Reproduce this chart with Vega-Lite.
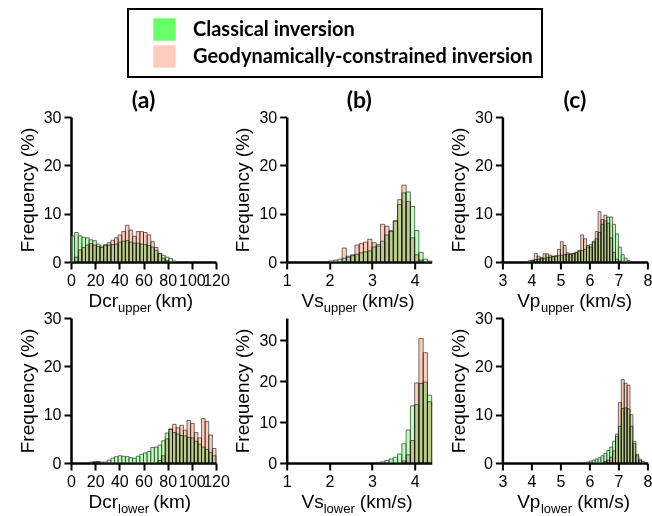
{
"$schema":"https://vega.github.io/schema/vega-lite/v6.json",
"background":"white",
"padding":{"left":18,"top":8,"right":0,"bottom":0},
"datasets":{
"a_up":[
{"s":"C","lo":0,"hi":3,"f":5.4},{"s":"C","lo":3,"hi":6,"f":6.1},{"s":"C","lo":6,"hi":9,"f":5.4},{"s":"C","lo":9,"hi":12,"f":5.1},{"s":"C","lo":12,"hi":15,"f":5.0},{"s":"C","lo":15,"hi":18,"f":4.6},{"s":"C","lo":18,"hi":21,"f":4.4},{"s":"C","lo":21,"hi":24,"f":3.7},{"s":"C","lo":24,"hi":27,"f":3.3},{"s":"C","lo":27,"hi":30,"f":3.4},{"s":"C","lo":30,"hi":33,"f":3.5},{"s":"C","lo":33,"hi":36,"f":3.6},{"s":"C","lo":36,"hi":39,"f":3.7},{"s":"C","lo":39,"hi":42,"f":4.1},{"s":"C","lo":42,"hi":45,"f":4.3},{"s":"C","lo":45,"hi":48,"f":4.4},{"s":"C","lo":48,"hi":51,"f":4.1},{"s":"C","lo":51,"hi":54,"f":3.9},{"s":"C","lo":54,"hi":57,"f":3.9},{"s":"C","lo":57,"hi":60,"f":3.7},{"s":"C","lo":60,"hi":63,"f":3.6},{"s":"C","lo":63,"hi":66,"f":3.4},{"s":"C","lo":66,"hi":69,"f":3.1},{"s":"C","lo":69,"hi":72,"f":2.4},{"s":"C","lo":72,"hi":75,"f":1.7},{"s":"C","lo":75,"hi":78,"f":1.4},{"s":"C","lo":78,"hi":81,"f":1.0},{"s":"C","lo":81,"hi":84,"f":0.7},{"s":"C","lo":84,"hi":87,"f":0.2},
{"s":"G","lo":3,"hi":6,"f":1.0},{"s":"G","lo":6,"hi":9,"f":2.5},{"s":"G","lo":9,"hi":12,"f":3.0},{"s":"G","lo":12,"hi":15,"f":3.5},{"s":"G","lo":15,"hi":18,"f":3.8},{"s":"G","lo":18,"hi":21,"f":3.5},{"s":"G","lo":21,"hi":24,"f":3.2},{"s":"G","lo":24,"hi":27,"f":3.0},{"s":"G","lo":27,"hi":30,"f":3.6},{"s":"G","lo":30,"hi":33,"f":4.0},{"s":"G","lo":33,"hi":36,"f":4.5},{"s":"G","lo":36,"hi":39,"f":5.0},{"s":"G","lo":39,"hi":42,"f":5.6},{"s":"G","lo":42,"hi":45,"f":6.3},{"s":"G","lo":45,"hi":48,"f":7.6},{"s":"G","lo":48,"hi":51,"f":6.6},{"s":"G","lo":51,"hi":54,"f":5.3},{"s":"G","lo":54,"hi":57,"f":6.3},{"s":"G","lo":57,"hi":60,"f":6.3},{"s":"G","lo":60,"hi":63,"f":6.1},{"s":"G","lo":63,"hi":66,"f":5.6},{"s":"G","lo":66,"hi":69,"f":4.2},{"s":"G","lo":69,"hi":72,"f":3.0},{"s":"G","lo":72,"hi":75,"f":1.8},{"s":"G","lo":75,"hi":78,"f":0.8},{"s":"G","lo":78,"hi":81,"f":0.3}
],
"b_up":[
{"s":"C","lo":2.0,"hi":2.1,"f":0.2},{"s":"C","lo":2.1,"hi":2.2,"f":0.4},{"s":"C","lo":2.2,"hi":2.3,"f":0.6},{"s":"C","lo":2.3,"hi":2.4,"f":0.8},{"s":"C","lo":2.4,"hi":2.5,"f":1.0},{"s":"C","lo":2.5,"hi":2.6,"f":1.3},{"s":"C","lo":2.6,"hi":2.7,"f":1.6},{"s":"C","lo":2.7,"hi":2.8,"f":1.9},{"s":"C","lo":2.8,"hi":2.9,"f":2.1},{"s":"C","lo":2.9,"hi":3.0,"f":2.3},{"s":"C","lo":3.0,"hi":3.1,"f":3.1},{"s":"C","lo":3.1,"hi":3.2,"f":3.6},{"s":"C","lo":3.2,"hi":3.3,"f":4.3},{"s":"C","lo":3.3,"hi":3.4,"f":5.6},{"s":"C","lo":3.4,"hi":3.5,"f":6.5},{"s":"C","lo":3.5,"hi":3.6,"f":8.4},{"s":"C","lo":3.6,"hi":3.7,"f":11.9},{"s":"C","lo":3.7,"hi":3.8,"f":14.3},{"s":"C","lo":3.8,"hi":3.9,"f":14.5},{"s":"C","lo":3.9,"hi":4.0,"f":11.5},{"s":"C","lo":4.0,"hi":4.1,"f":6.5},{"s":"C","lo":4.1,"hi":4.2,"f":2.0},{"s":"C","lo":4.2,"hi":4.3,"f":0.6},{"s":"C","lo":4.3,"hi":4.4,"f":0.2},
{"s":"G","lo":2.3,"hi":2.4,"f":2.9},{"s":"G","lo":2.4,"hi":2.5,"f":1.2},{"s":"G","lo":2.5,"hi":2.6,"f":1.5},{"s":"G","lo":2.6,"hi":2.7,"f":3.5},{"s":"G","lo":2.7,"hi":2.8,"f":3.8},{"s":"G","lo":2.8,"hi":2.9,"f":4.1},{"s":"G","lo":2.9,"hi":3.0,"f":4.7},{"s":"G","lo":3.0,"hi":3.1,"f":4.0},{"s":"G","lo":3.1,"hi":3.2,"f":3.3},{"s":"G","lo":3.2,"hi":3.3,"f":7.8},{"s":"G","lo":3.3,"hi":3.4,"f":7.4},{"s":"G","lo":3.4,"hi":3.5,"f":6.3},{"s":"G","lo":3.5,"hi":3.6,"f":8.6},{"s":"G","lo":3.6,"hi":3.7,"f":12.9},{"s":"G","lo":3.7,"hi":3.8,"f":15.9},{"s":"G","lo":3.8,"hi":3.9,"f":12.5},{"s":"G","lo":3.9,"hi":4.0,"f":5.0},{"s":"G","lo":4.0,"hi":4.1,"f":1.5},{"s":"G","lo":4.1,"hi":4.2,"f":0.4}
],
"c_up":[
{"s":"C","lo":3.8,"hi":3.9,"f":0.1},{"s":"C","lo":3.9,"hi":4.0,"f":0.3},{"s":"C","lo":4.0,"hi":4.1,"f":0.4},{"s":"C","lo":4.1,"hi":4.2,"f":0.5},{"s":"C","lo":4.2,"hi":4.3,"f":0.6},{"s":"C","lo":4.3,"hi":4.4,"f":0.7},{"s":"C","lo":4.4,"hi":4.5,"f":0.8},{"s":"C","lo":4.5,"hi":4.6,"f":0.9},{"s":"C","lo":4.6,"hi":4.7,"f":1.0},{"s":"C","lo":4.7,"hi":4.8,"f":1.1},{"s":"C","lo":4.8,"hi":4.9,"f":1.2},{"s":"C","lo":4.9,"hi":5.0,"f":1.3},{"s":"C","lo":5.0,"hi":5.1,"f":1.4},{"s":"C","lo":5.1,"hi":5.2,"f":1.5},{"s":"C","lo":5.2,"hi":5.3,"f":1.6},{"s":"C","lo":5.3,"hi":5.4,"f":1.7},{"s":"C","lo":5.4,"hi":5.5,"f":1.8},{"s":"C","lo":5.5,"hi":5.6,"f":2.0},{"s":"C","lo":5.6,"hi":5.7,"f":2.2},{"s":"C","lo":5.7,"hi":5.8,"f":2.4},{"s":"C","lo":5.8,"hi":5.9,"f":2.6},{"s":"C","lo":5.9,"hi":6.0,"f":3.1},{"s":"C","lo":6.0,"hi":6.1,"f":3.6},{"s":"C","lo":6.1,"hi":6.2,"f":4.1},{"s":"C","lo":6.2,"hi":6.3,"f":4.8},{"s":"C","lo":6.3,"hi":6.4,"f":6.1},{"s":"C","lo":6.4,"hi":6.5,"f":7.8},{"s":"C","lo":6.5,"hi":6.6,"f":8.5},{"s":"C","lo":6.6,"hi":6.7,"f":9.3},{"s":"C","lo":6.7,"hi":6.8,"f":9.3},{"s":"C","lo":6.8,"hi":6.9,"f":7.8},{"s":"C","lo":6.9,"hi":7.0,"f":5.8},{"s":"C","lo":7.0,"hi":7.1,"f":3.1},{"s":"C","lo":7.1,"hi":7.2,"f":1.5},{"s":"C","lo":7.2,"hi":7.3,"f":0.8},{"s":"C","lo":7.3,"hi":7.4,"f":0.3},
{"s":"G","lo":4.0,"hi":4.1,"f":0.3},{"s":"G","lo":4.1,"hi":4.2,"f":1.8},{"s":"G","lo":4.2,"hi":4.3,"f":1.2},{"s":"G","lo":4.3,"hi":4.4,"f":0.9},{"s":"G","lo":4.4,"hi":4.5,"f":1.7},{"s":"G","lo":4.5,"hi":4.6,"f":1.7},{"s":"G","lo":4.6,"hi":4.7,"f":1.4},{"s":"G","lo":4.7,"hi":4.8,"f":1.2},{"s":"G","lo":4.8,"hi":4.9,"f":1.3},{"s":"G","lo":4.9,"hi":5.0,"f":2.6},{"s":"G","lo":5.0,"hi":5.1,"f":4.2},{"s":"G","lo":5.1,"hi":5.2,"f":3.4},{"s":"G","lo":5.2,"hi":5.3,"f":1.9},{"s":"G","lo":5.3,"hi":5.4,"f":1.6},{"s":"G","lo":5.4,"hi":5.5,"f":1.7},{"s":"G","lo":5.5,"hi":5.6,"f":1.9},{"s":"G","lo":5.6,"hi":5.7,"f":2.4},{"s":"G","lo":5.7,"hi":5.8,"f":5.6},{"s":"G","lo":5.8,"hi":5.9,"f":4.8},{"s":"G","lo":5.9,"hi":6.0,"f":3.4},{"s":"G","lo":6.0,"hi":6.1,"f":3.1},{"s":"G","lo":6.1,"hi":6.2,"f":4.3},{"s":"G","lo":6.2,"hi":6.3,"f":6.3},{"s":"G","lo":6.3,"hi":6.4,"f":10.4},{"s":"G","lo":6.4,"hi":6.5,"f":8.8},{"s":"G","lo":6.5,"hi":6.6,"f":9.7},{"s":"G","lo":6.6,"hi":6.7,"f":8.0},{"s":"G","lo":6.7,"hi":6.8,"f":5.0},{"s":"G","lo":6.8,"hi":6.9,"f":2.0},{"s":"G","lo":6.9,"hi":7.0,"f":0.6},{"s":"G","lo":7.0,"hi":7.1,"f":0.2}
],
"a_lo":[
{"s":"C","lo":15,"hi":18,"f":0.2},{"s":"C","lo":18,"hi":21,"f":0.3},{"s":"C","lo":21,"hi":24,"f":0.3},{"s":"C","lo":24,"hi":27,"f":0.2},{"s":"C","lo":27,"hi":30,"f":0.2},{"s":"C","lo":30,"hi":33,"f":0.6},{"s":"C","lo":33,"hi":36,"f":1.0},{"s":"C","lo":36,"hi":39,"f":1.3},{"s":"C","lo":39,"hi":42,"f":1.5},{"s":"C","lo":42,"hi":45,"f":1.4},{"s":"C","lo":45,"hi":48,"f":1.3},{"s":"C","lo":48,"hi":51,"f":1.1},{"s":"C","lo":51,"hi":54,"f":1.0},{"s":"C","lo":54,"hi":57,"f":1.4},{"s":"C","lo":57,"hi":60,"f":1.8},{"s":"C","lo":60,"hi":63,"f":2.1},{"s":"C","lo":63,"hi":66,"f":2.4},{"s":"C","lo":66,"hi":69,"f":3.2},{"s":"C","lo":69,"hi":72,"f":3.3},{"s":"C","lo":72,"hi":75,"f":3.7},{"s":"C","lo":75,"hi":78,"f":4.6},{"s":"C","lo":78,"hi":81,"f":6.2},{"s":"C","lo":81,"hi":84,"f":7.0},{"s":"C","lo":84,"hi":87,"f":6.3},{"s":"C","lo":87,"hi":90,"f":6.0},{"s":"C","lo":90,"hi":93,"f":5.7},{"s":"C","lo":93,"hi":96,"f":5.6},{"s":"C","lo":96,"hi":99,"f":5.3},{"s":"C","lo":99,"hi":102,"f":5.2},{"s":"C","lo":102,"hi":105,"f":4.5},{"s":"C","lo":105,"hi":108,"f":3.9},{"s":"C","lo":108,"hi":111,"f":3.3},{"s":"C","lo":111,"hi":114,"f":2.8},{"s":"C","lo":114,"hi":117,"f":2.2},{"s":"C","lo":117,"hi":120,"f":1.5},
{"s":"G","lo":18,"hi":21,"f":0.1},{"s":"G","lo":21,"hi":24,"f":0.2},{"s":"G","lo":72,"hi":75,"f":0.5},{"s":"G","lo":75,"hi":78,"f":1.5},{"s":"G","lo":78,"hi":81,"f":5.0},{"s":"G","lo":81,"hi":84,"f":7.0},{"s":"G","lo":84,"hi":87,"f":8.0},{"s":"G","lo":87,"hi":90,"f":7.3},{"s":"G","lo":90,"hi":93,"f":7.8},{"s":"G","lo":93,"hi":96,"f":6.8},{"s":"G","lo":96,"hi":99,"f":8.8},{"s":"G","lo":99,"hi":102,"f":8.2},{"s":"G","lo":102,"hi":105,"f":6.3},{"s":"G","lo":105,"hi":108,"f":5.2},{"s":"G","lo":108,"hi":111,"f":9.2},{"s":"G","lo":111,"hi":114,"f":8.6},{"s":"G","lo":114,"hi":117,"f":5.8},{"s":"G","lo":117,"hi":120,"f":3.0}
],
"b_lo":[
{"s":"C","lo":3.1,"hi":3.2,"f":0.1},{"s":"C","lo":3.2,"hi":3.3,"f":0.3},{"s":"C","lo":3.3,"hi":3.4,"f":0.6},{"s":"C","lo":3.4,"hi":3.5,"f":1.0},{"s":"C","lo":3.5,"hi":3.6,"f":1.4},{"s":"C","lo":3.6,"hi":3.7,"f":2.2},{"s":"C","lo":3.7,"hi":3.8,"f":4.7},{"s":"C","lo":3.8,"hi":3.9,"f":8.1},{"s":"C","lo":3.9,"hi":4.0,"f":14.0},{"s":"C","lo":4.0,"hi":4.1,"f":14.3},{"s":"C","lo":4.1,"hi":4.2,"f":19.5},{"s":"C","lo":4.2,"hi":4.3,"f":19.8},{"s":"C","lo":4.3,"hi":4.4,"f":16.6},
{"s":"G","lo":3.7,"hi":3.8,"f":0.5},{"s":"G","lo":3.8,"hi":3.9,"f":2.0},{"s":"G","lo":3.9,"hi":4.0,"f":5.5},{"s":"G","lo":4.0,"hi":4.1,"f":19.6},{"s":"G","lo":4.1,"hi":4.2,"f":30.5},{"s":"G","lo":4.2,"hi":4.3,"f":27.0},{"s":"G","lo":4.3,"hi":4.4,"f":15.0}
],
"c_lo":[
{"s":"C","lo":5.8,"hi":5.9,"f":0.1},{"s":"C","lo":5.9,"hi":6.0,"f":0.2},{"s":"C","lo":6.0,"hi":6.1,"f":0.4},{"s":"C","lo":6.1,"hi":6.2,"f":0.6},{"s":"C","lo":6.2,"hi":6.3,"f":0.8},{"s":"C","lo":6.3,"hi":6.4,"f":1.1},{"s":"C","lo":6.4,"hi":6.5,"f":1.5},{"s":"C","lo":6.5,"hi":6.6,"f":2.0},{"s":"C","lo":6.6,"hi":6.7,"f":2.6},{"s":"C","lo":6.7,"hi":6.8,"f":3.3},{"s":"C","lo":6.8,"hi":6.9,"f":4.5},{"s":"C","lo":6.9,"hi":7.0,"f":6.0},{"s":"C","lo":7.0,"hi":7.1,"f":7.6},{"s":"C","lo":7.1,"hi":7.2,"f":11.3},{"s":"C","lo":7.2,"hi":7.3,"f":11.4},{"s":"C","lo":7.3,"hi":7.4,"f":11.2},{"s":"C","lo":7.4,"hi":7.5,"f":7.6},{"s":"C","lo":7.5,"hi":7.6,"f":4.5},{"s":"C","lo":7.6,"hi":7.7,"f":1.8},{"s":"C","lo":7.7,"hi":7.8,"f":0.8},{"s":"C","lo":7.8,"hi":7.9,"f":0.3},
{"s":"G","lo":6.5,"hi":6.6,"f":0.3},{"s":"G","lo":6.6,"hi":6.7,"f":0.6},{"s":"G","lo":6.7,"hi":6.8,"f":1.2},{"s":"G","lo":6.8,"hi":6.9,"f":2.5},{"s":"G","lo":6.9,"hi":7.0,"f":5.5},{"s":"G","lo":7.0,"hi":7.1,"f":12.5},{"s":"G","lo":7.1,"hi":7.2,"f":17.3},{"s":"G","lo":7.2,"hi":7.3,"f":16.5},{"s":"G","lo":7.3,"hi":7.4,"f":16.1},{"s":"G","lo":7.4,"hi":7.5,"f":10.0},{"s":"G","lo":7.5,"hi":7.6,"f":4.0},{"s":"G","lo":7.6,"hi":7.7,"f":1.5},{"s":"G","lo":7.7,"hi":7.8,"f":0.5}
]
},
"columns":3,
"bounds":"flush",
"spacing":{"row":56,"column":70.7},
"concat":[
{"width":145,"height":145,"title":"(a)","data":{"name":"a_up"},"resolve":{"axis":{"x":"independent","y":"independent"}},
"layer":[
{"transform":[{"filter":"datum.s=='C'"}],"mark":{"type":"bar","fillOpacity":0.45,"stroke":"#333","strokeWidth":0.7},
"encoding":{"x":{"field":"lo","type":"quantitative","scale":{"domain":[0,120],"nice":false,"zero":false},"axis":{"values":[0,20,40,60,80,100,120],"title":"Dcr","titleX":17,"titleY":44,"titleAlign":"left","titleBaseline":"alphabetic"}},"x2":{"field":"hi"},
"y":{"field":"f","type":"quantitative","scale":{"domain":[0,30],"nice":false},"axis":{"values":[0,10,20,30],"title":"Frequency (%)"}},"y2":{"datum":0},
"color":{"field":"s","type":"nominal","scale":{"domain":["C","G"],"range":["#66ff66","#ffccbb"]},"legend":{"labelExpr":"datum.label == 'C' ? 'Classical inversion' : 'Geodynamically-constrained inversion'"}}}},
{"transform":[{"filter":"datum.s=='G'"}],"mark":{"type":"bar","blend":"multiply","stroke":"#333","strokeWidth":0.7},
"encoding":{"x":{"field":"lo","type":"quantitative","axis":{"orient":"top","domain":false,"ticks":false,"labels":false,"title":"upper","titleFontSize":13,"titleX":46.5,"titleY":194,"titleAlign":"left","titleBaseline":"alphabetic"}},"x2":{"field":"hi"},
"y":{"field":"f","type":"quantitative","axis":{"orient":"right","domain":false,"ticks":false,"labels":false,"title":"(km)","titleAngle":0,"titleX":-61.3,"titleY":189,"titleAlign":"left","titleBaseline":"alphabetic"}},"y2":{"datum":0},"color":{"field":"s","type":"nominal"}}}
]},
{"width":145,"height":145,"title":"(b)","data":{"name":"b_up"},"resolve":{"axis":{"x":"independent","y":"independent"}},
"layer":[
{"transform":[{"filter":"datum.s=='C'"}],"mark":{"type":"bar","fillOpacity":0.45,"stroke":"#333","strokeWidth":0.7},
"encoding":{"x":{"field":"lo","type":"quantitative","scale":{"domain":[1,4.4],"nice":false,"zero":false},"axis":{"values":[1,2,3,4],"title":"Vs","titleX":14.3,"titleY":44,"titleAlign":"left","titleBaseline":"alphabetic"}},"x2":{"field":"hi"},
"y":{"field":"f","type":"quantitative","scale":{"domain":[0,30],"nice":false},"axis":{"values":[0,10,20,30],"title":"Frequency (%)"}},"y2":{"datum":0},
"color":{"field":"s","type":"nominal","scale":{"domain":["C","G"],"range":["#66ff66","#ffccbb"]}}}},
{"transform":[{"filter":"datum.s=='G'"}],"mark":{"type":"bar","blend":"multiply","stroke":"#333","strokeWidth":0.7},
"encoding":{"x":{"field":"lo","type":"quantitative","axis":{"orient":"top","domain":false,"ticks":false,"labels":false,"title":"upper","titleFontSize":13,"titleX":36.5,"titleY":194,"titleAlign":"left","titleBaseline":"alphabetic"}},"x2":{"field":"hi"},
"y":{"field":"f","type":"quantitative","axis":{"orient":"right","domain":false,"ticks":false,"labels":false,"title":"(km/s)","titleAngle":0,"titleX":-70.4,"titleY":189,"titleAlign":"left","titleBaseline":"alphabetic"}},"y2":{"datum":0},"color":{"field":"s","type":"nominal"}}}
]},
{"width":145,"height":145,"title":"(c)","data":{"name":"c_up"},"resolve":{"axis":{"x":"independent","y":"independent"}},
"layer":[
{"transform":[{"filter":"datum.s=='C'"}],"mark":{"type":"bar","fillOpacity":0.45,"stroke":"#333","strokeWidth":0.7},
"encoding":{"x":{"field":"lo","type":"quantitative","scale":{"domain":[3,8],"nice":false,"zero":false},"axis":{"values":[3,4,5,6,7,8],"title":"Vp","titleX":14.3,"titleY":44,"titleAlign":"left","titleBaseline":"alphabetic"}},"x2":{"field":"hi"},
"y":{"field":"f","type":"quantitative","scale":{"domain":[0,30],"nice":false},"axis":{"values":[0,10,20,30],"title":"Frequency (%)"}},"y2":{"datum":0},
"color":{"field":"s","type":"nominal","scale":{"domain":["C","G"],"range":["#66ff66","#ffccbb"]}}}},
{"transform":[{"filter":"datum.s=='G'"}],"mark":{"type":"bar","blend":"multiply","stroke":"#333","strokeWidth":0.7},
"encoding":{"x":{"field":"lo","type":"quantitative","axis":{"orient":"top","domain":false,"ticks":false,"labels":false,"title":"upper","titleFontSize":13,"titleX":38,"titleY":194,"titleAlign":"left","titleBaseline":"alphabetic"}},"x2":{"field":"hi"},
"y":{"field":"f","type":"quantitative","axis":{"orient":"right","domain":false,"ticks":false,"labels":false,"title":"(km/s)","titleAngle":0,"titleX":-68.7,"titleY":189,"titleAlign":"left","titleBaseline":"alphabetic"}},"y2":{"datum":0},"color":{"field":"s","type":"nominal"}}}
]},
{"width":145,"height":145,"data":{"name":"a_lo"},"resolve":{"axis":{"x":"independent","y":"independent"}},
"layer":[
{"transform":[{"filter":"datum.s=='C'"}],"mark":{"type":"bar","fillOpacity":0.45,"stroke":"#333","strokeWidth":0.7},
"encoding":{"x":{"field":"lo","type":"quantitative","scale":{"domain":[0,120],"nice":false,"zero":false},"axis":{"values":[0,20,40,60,80,100,120],"title":"Dcr","titleX":17,"titleY":44,"titleAlign":"left","titleBaseline":"alphabetic"}},"x2":{"field":"hi"},
"y":{"field":"f","type":"quantitative","scale":{"domain":[0,30],"nice":false},"axis":{"values":[0,10,20,30],"title":"Frequency (%)"}},"y2":{"datum":0},
"color":{"field":"s","type":"nominal","scale":{"domain":["C","G"],"range":["#66ff66","#ffccbb"]}}}},
{"transform":[{"filter":"datum.s=='G'"}],"mark":{"type":"bar","blend":"multiply","stroke":"#333","strokeWidth":0.7},
"encoding":{"x":{"field":"lo","type":"quantitative","axis":{"orient":"top","domain":false,"ticks":false,"labels":false,"title":"lower","titleFontSize":13,"titleX":46.5,"titleY":194,"titleAlign":"left","titleBaseline":"alphabetic"}},"x2":{"field":"hi"},
"y":{"field":"f","type":"quantitative","axis":{"orient":"right","domain":false,"ticks":false,"labels":false,"title":"(km)","titleAngle":0,"titleX":-63.3,"titleY":189,"titleAlign":"left","titleBaseline":"alphabetic"}},"y2":{"datum":0},"color":{"field":"s","type":"nominal"}}}
]},
{"width":145,"height":145,"data":{"name":"b_lo"},"resolve":{"axis":{"x":"independent","y":"independent"}},
"layer":[
{"transform":[{"filter":"datum.s=='C'"}],"mark":{"type":"bar","fillOpacity":0.45,"stroke":"#333","strokeWidth":0.7},
"encoding":{"x":{"field":"lo","type":"quantitative","scale":{"domain":[1,4.4],"nice":false,"zero":false},"axis":{"values":[1,2,3,4],"title":"Vs","titleX":14.3,"titleY":44,"titleAlign":"left","titleBaseline":"alphabetic"}},"x2":{"field":"hi"},
"y":{"field":"f","type":"quantitative","scale":{"domain":[0,35.5],"nice":false},"axis":{"values":[0,10,20,30],"title":"Frequency (%)"}},"y2":{"datum":0},
"color":{"field":"s","type":"nominal","scale":{"domain":["C","G"],"range":["#66ff66","#ffccbb"]}}}},
{"transform":[{"filter":"datum.s=='G'"}],"mark":{"type":"bar","blend":"multiply","stroke":"#333","strokeWidth":0.7},
"encoding":{"x":{"field":"lo","type":"quantitative","axis":{"orient":"top","domain":false,"ticks":false,"labels":false,"title":"lower","titleFontSize":13,"titleX":36.5,"titleY":194,"titleAlign":"left","titleBaseline":"alphabetic"}},"x2":{"field":"hi"},
"y":{"field":"f","type":"quantitative","axis":{"orient":"right","domain":false,"ticks":false,"labels":false,"title":"(km/s)","titleAngle":0,"titleX":-72.4,"titleY":189,"titleAlign":"left","titleBaseline":"alphabetic"}},"y2":{"datum":0},"color":{"field":"s","type":"nominal"}}}
]},
{"width":145,"height":145,"data":{"name":"c_lo"},"resolve":{"axis":{"x":"independent","y":"independent"}},
"layer":[
{"transform":[{"filter":"datum.s=='C'"}],"mark":{"type":"bar","fillOpacity":0.45,"stroke":"#333","strokeWidth":0.7},
"encoding":{"x":{"field":"lo","type":"quantitative","scale":{"domain":[3,8],"nice":false,"zero":false},"axis":{"values":[3,4,5,6,7,8],"title":"Vp","titleX":14.3,"titleY":44,"titleAlign":"left","titleBaseline":"alphabetic"}},"x2":{"field":"hi"},
"y":{"field":"f","type":"quantitative","scale":{"domain":[0,30],"nice":false},"axis":{"values":[0,10,20,30],"title":"Frequency (%)"}},"y2":{"datum":0},
"color":{"field":"s","type":"nominal","scale":{"domain":["C","G"],"range":["#66ff66","#ffccbb"]}}}},
{"transform":[{"filter":"datum.s=='G'"}],"mark":{"type":"bar","blend":"multiply","stroke":"#333","strokeWidth":0.7},
"encoding":{"x":{"field":"lo","type":"quantitative","axis":{"orient":"top","domain":false,"ticks":false,"labels":false,"title":"lower","titleFontSize":13,"titleX":38,"titleY":194,"titleAlign":"left","titleBaseline":"alphabetic"}},"x2":{"field":"hi"},
"y":{"field":"f","type":"quantitative","axis":{"orient":"right","domain":false,"ticks":false,"labels":false,"title":"(km/s)","titleAngle":0,"titleX":-70.7,"titleY":189,"titleAlign":"left","titleBaseline":"alphabetic"}},"y2":{"datum":0},"color":{"field":"s","type":"nominal"}}}
]}
],
"config":{
"view":{"stroke":null},
"axis":{"grid":false,"domainColor":"black","domainWidth":2.5,"tickColor":"black","tickWidth":2,"tickSize":7,"labelFont":"Liberation Sans","labelFontSize":16,"labelColor":"black","labelPadding":3,"titleFont":"Liberation Sans","titleFontSize":19,"titleFontWeight":"normal","titleColor":"black","titlePadding":6,"labelOverlap":false,"labelFlush":false},
"legend":{"orient":"none","legendX":57,"legendY":-108,"direction":"vertical","title":null,"symbolType":"square","symbolSize":500,"symbolOpacity":1,"symbolStrokeWidth":0,"labelFont":"Lato","labelFontSize":20,"labelFontWeight":"bold","labelColor":"black","labelLimit":500,"strokeColor":"black","strokeWidth":2,"padding":9,"symbolOffset":16,"labelOffset":17,"rowPadding":4},
"title":{"font":"Lato","fontSize":23,"fontWeight":"bold","color":"black","offset":-4,"baseline":"alphabetic","anchor":"middle"}
}
}
